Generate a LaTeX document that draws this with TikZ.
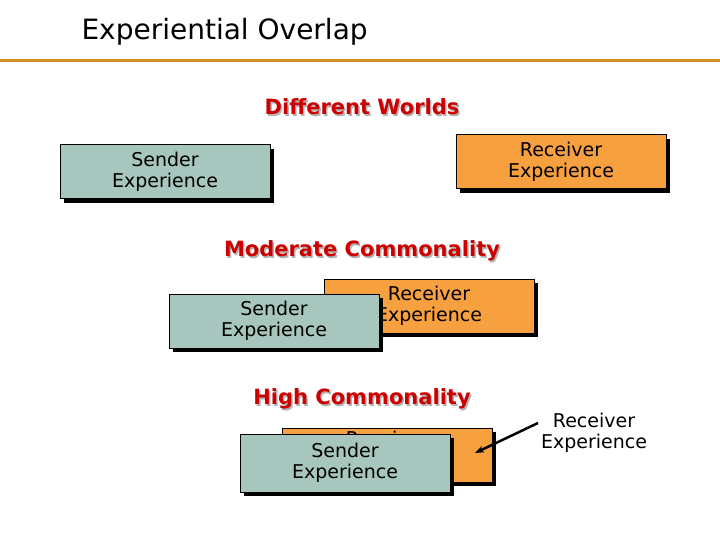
\documentclass[tikz,border=0pt]{standalone}
\usepackage{fontspec}
\setmainfont{DejaVu Sans}
\usetikzlibrary{arrows.meta,shadows}
\definecolor{teal}{RGB}{166,198,190}
\definecolor{orng}{RGB}{247,160,64}
\definecolor{ttl}{RGB}{204,0,0}
\definecolor{rule}{RGB}{210,140,40}
\tikzset{
 box/.style={draw=black,line width=1pt,minimum width=210pt,minimum height=54pt,align=center,inner sep=0pt,
   font=\fontsize{19}{21}\selectfont,
   drop shadow={shadow xshift=4pt,shadow yshift=-4pt,fill=black,opacity=1}},
 snd/.style={box,fill=teal},
 rcv/.style={box,fill=orng},
 ttlst/.style={font=\bfseries\fontsize{21}{23}\selectfont,text=ttl},
 lbl/.style={font=\fontsize{19}{21}\selectfont,align=center}
}
\begin{document}
\begin{tikzpicture}[x=1pt,y=-1pt]
\useasboundingbox (0,0) rectangle (720,540);
\node[anchor=west,font=\fontsize{28}{32}\selectfont] (hdr) at (78,32) {Experiential Overlap};
\draw[rule,line width=3pt] (0,61) -- (720,61);
\node[ttlst,text=gray!60] at (363.5,108.5) {Different Worlds};
\node[ttlst] (t1) at (362,107) {Different Worlds};
\node[snd] (s1) at (165,172) {Sender\\Experience};
\node[rcv] (r1) at (561,162) {Receiver\\Experience};
\node[ttlst,text=gray!60] at (363.5,252.5) {Moderate Commonality};
\node[ttlst] (t2) at (362,251) {Moderate Commonality};
\node[rcv] (r2) at (429,306) {Receiver\\Experience};
\node[snd] (s2) at (274,321) {Sender\\Experience};
\node[ttlst,text=gray!60] at (363.5,400.5) {High Commonality};
\node[ttlst] (t3) at (362,399) {High Commonality};
\node[rcv,text height=12pt] (r3) at (387,455) {\raisebox{16pt}{Receiver}};
\node[snd,minimum height=58pt] (s3) at (345,463) {Sender\\Experience};
\node[lbl] (l3) at (594,433) {Receiver\\Experience};
\coordinate (a3) at (475,453);
\coordinate (b3) at (538,423);
\draw[line width=2.5pt,-{Stealth[length=9pt]}] (b3) -- (a3);
\end{tikzpicture}
\end{document}
